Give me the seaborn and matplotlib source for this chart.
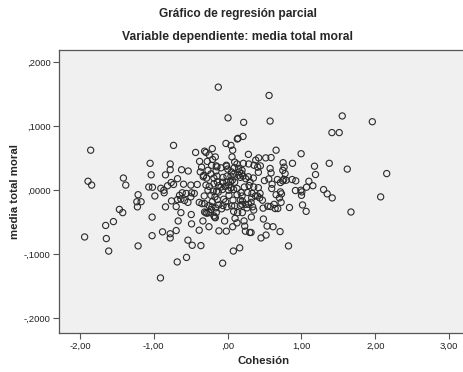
import numpy as np
import pandas as pd
import matplotlib
matplotlib.use('Agg')
import matplotlib.pyplot as plt
import seaborn as sns
from matplotlib.ticker import FuncFormatter

# residuos (Cohesion vs media total moral)
cohesion = [
    -0.127, 0.561, 1.552, 1.959, 0.005, 0.217, 0.575, 1.412, 1.511, 0.131,
    0.140, 0.208, -1.855, -0.733, -0.023, 0.045, 0.068, -0.434, -0.312, -0.294,
    -0.208, -0.249, -0.167, 0.059, 0.281, 0.516, 0.588, 0.656, 0.995, 0.380,
    0.420, -1.050, -0.778, -0.380, -0.276, -0.204, -0.154, -0.018, 0.095, 0.213,
    0.751, 0.878, 1.176, 1.376, 1.620, 2.154, 1.190, -0.778, -0.624, -0.534,
    -0.842, -1.036, -1.412, -0.679, -0.765, -0.814, -0.905, -1.068, -1.018, -1.891,
    -1.842, -1.380, -0.986, -1.213, -1.230, -1.172, -1.222, -1.466, -1.421, -1.547,
    -1.652, -1.937, -1.643, -1.611, -1.213, -1.023, -1.023, -0.882, -0.778, -0.778,
    -0.697, -0.670, -0.633, -0.697, -0.842, -0.760, -0.860, -0.864, -0.733, -0.597,
    -0.652, -0.633, -0.561, -0.584, -0.538, -0.498, -0.489, -0.412, -0.452, -0.493,
    -0.489, -0.538, -0.480, -0.362, -0.557, -0.683, -0.910, -0.385, -0.335, -0.253,
    -0.385, -0.348, -0.294, -0.253, -0.186, -0.167, -0.118, -0.041, -0.018, -0.068,
    0.077, 0.163, 0.068, 0.100, 0.127, 0.199, 0.222, 0.231, 0.240, 0.299,
    0.317, 0.321, 0.136, 0.452, 0.520, 0.484, 0.534, 0.615, 0.710, 0.824,
    1.670, 2.072, 1.063, 1.014, 0.837, 0.679, 0.643, 0.724, 0.701, 0.656,
    0.480, 0.543, 0.579, 0.629, 0.434, 0.471, 0.403, 0.439, 0.326, 0.317,
    0.285, 0.339, 0.195, 0.172, 0.195, 0.095, 0.054, -0.009, -0.063, -0.081,
    -0.122, -0.163, -0.213, -0.253, -0.312, -0.054, -0.140, -0.172, -0.226, -0.195,
    -0.149, -0.127, -0.267, -0.317, -0.294, -0.249, -0.186, -0.140, -0.122, -0.072,
    -0.032, 0.014, 0.045, 0.081, 0.127, 0.127, 0.181, 0.226, 0.095, 0.014,
    0.063, 0.045, 0.081, 0.149, 0.172, 0.208, 0.158, 0.190, 0.149, 0.195,
    0.244, 0.303, 0.348, 0.290, 0.271, 0.416, 0.416, 0.407, 0.575, 0.588,
    0.557, 0.602, 0.597, 0.674, 0.715, 0.747, 0.760, 0.792, 0.747, 0.765,
    0.778, 0.873, 0.923, 0.918, 0.991, 1.005, 1.000, 1.068, 1.100, 1.154,
    1.299, 1.348, 1.416, 0.715, 0.729, 0.330, 0.376, 0.199, 0.244, 0.262,
    0.072, 0.018, -0.027, -0.176, -0.154, 0.081, 0.172, -0.145, -0.158, -0.090,
    -0.014, 0.000, -0.063, -0.009, 0.054, 0.090, 0.127, -0.217, -0.267, -0.226,
    -0.326, -0.353, -0.371, -0.330, -0.285, -0.145, -0.186, -0.068, -0.009, 0.041,
    0.285, 0.357, 0.443, 0.281, 0.498, 0.353, -0.090, -0.208, -0.281, -0.226,
    0.353, -0.312, -0.615, -0.679, -0.498,
]
moral = [
    0.161, 0.148, 0.116, 0.107, 0.113, 0.106, 0.108, 0.090, 0.090, 0.080,
    0.081, 0.084, 0.0625, 0.070, 0.073, 0.070, 0.0625, 0.059, 0.061, 0.059,
    0.065, 0.055, 0.052, 0.052, 0.056, 0.0505, 0.051, 0.0625, 0.057, 0.047,
    0.0505, 0.042, 0.041, 0.045, 0.045, 0.048, 0.038, 0.039, 0.044, 0.042,
    0.043, 0.042, 0.0375, 0.042, 0.033, 0.026, 0.0245, 0.032, 0.032, 0.030,
    0.024, 0.024, 0.019, 0.018, 0.012, 0.007, 0.003, 0.005, 0.0047, 0.014,
    0.008, 0.008, -0.009, -0.007, -0.018, -0.018, -0.026, -0.030, -0.035, -0.049,
    -0.055, -0.073, -0.0755, -0.095, -0.087, -0.042, -0.071, -0.065, -0.068, -0.0745,
    -0.063, -0.048, -0.035, -0.0255, -0.026, -0.0167, -0.004, 0.000, 0.009, 0.0094,
    -0.008, -0.014, -0.005, -0.016, -0.019, 0.008, -0.004, 0.009, -0.005, -0.038,
    -0.0526, -0.078, -0.086, -0.0865, -0.105, -0.112, -0.137, -0.0625, -0.048, -0.057,
    -0.019, -0.021, -0.035, -0.035, -0.040, -0.043, -0.0635, -0.048, -0.064, -0.114,
    -0.095, -0.090, -0.057, -0.044, -0.051, -0.035, -0.048, -0.056, -0.064, -0.066,
    -0.066, -0.042, -0.035, -0.0745, -0.070, -0.045, -0.056, -0.057, -0.0646, -0.087,
    -0.034, -0.0104, -0.033, -0.023, -0.027, -0.0286, -0.0286, -0.019, -0.012, -0.007,
    -0.028, -0.025, -0.0255, -0.022, -0.012, -0.0156, -0.009, -0.005, -0.012, -0.019,
    -0.022, -0.026, -0.022, -0.0156, -0.009, -0.0245, -0.0245, -0.026, -0.024, -0.029,
    -0.023, -0.0276, -0.026, -0.024, -0.021, -0.014, -0.0146, -0.0104, -0.008, -0.0016,
    -0.0016, -0.003, 0.000, -0.009, 0.008, 0.006, 0.010, 0.013, 0.007, 0.001,
    0.006, 0.000, 0.0036, 0.001, -0.007, 0.0026, -0.0036, 0.005, 0.0125, 0.008,
    0.0156, 0.022, 0.025, 0.0234, 0.020, 0.022, 0.0286, 0.026, 0.034, 0.031,
    0.018, 0.013, 0.019, 0.0073, -0.0036, 0.004, 0.028, 0.036, 0.034, 0.027,
    0.0177, 0.0094, 0.0026, 0.0167, 0.012, 0.0146, 0.017, 0.0156, 0.031, 0.036,
    0.026, 0.0167, 0.0146, -0.0005, 0.000, -0.0026, -0.008, 0.0047, 0.014, 0.007,
    0.001, -0.0057, -0.012, -0.0026, -0.0057, -0.005, -0.009, -0.017, -0.022, -0.0276,
    -0.0156, -0.008, -0.018, -0.042, -0.035, -0.033, -0.024, 0.0365, 0.030, 0.035,
    0.0375, 0.033, 0.020, 0.022, 0.0286, 0.035, 0.041, 0.039, 0.031, 0.0255,
    0.023, 0.036, 0.0286, 0.021, 0.019, 0.022, 0.019, 0.0125, 0.0125, 0.0135,
    0.041, 0.039, 0.038, 0.021, 0.015, 0.005, 0.005, -0.018, -0.036, -0.030,
    -0.031, -0.034, -0.004, -0.0146, -0.0104,
]

df = pd.DataFrame({'Cohesión': cohesion, 'media total moral': moral})

sns.set_style('white')
plt.rcParams['font.family'] = ['Liberation Sans', 'DejaVu Sans']

fig = plt.figure(figsize=(4.63, 3.72), dpi=100)
ax = fig.add_axes([59 / 463, 1 - 333 / 372, 1 - 59 / 463 + 0.01, 283 / 372])
ax.set_facecolor('#f0f0f0')

sns.scatterplot(data=df, x='Cohesión', y='media total moral', ax=ax,
                marker='o', s=20, facecolors='none', edgecolor='#2a2a2a',
                linewidth=0.8)

ax.set_xlim(-2.284, 3.25)
ax.set_ylim(-0.223, 0.219)
ax.set_xticks([-2, -1, 0, 1, 2, 3])
ax.set_yticks([-0.2, -0.1, 0.0, 0.1, 0.2])


def fmt_es(v, dec):
    # formato SPSS: coma decimal, sin cero inicial
    s = f'{abs(v):.{dec}f}'.replace('.', ',')
    if s.startswith('0,'):
        s = s[1:]
    if v < 0 and abs(v) > 1e-9:
        s = '-' + s
    return s


ax.xaxis.set_major_formatter(FuncFormatter(lambda v, p: fmt_es(v, 2)))
ax.yaxis.set_major_formatter(FuncFormatter(lambda v, p: fmt_es(v, 4)))

for side in ['left', 'bottom', 'top', 'right']:
    ax.spines[side].set_color('#555555')
    ax.spines[side].set_linewidth(0.9)

ax.tick_params(axis='both', direction='out', length=4, width=0.8,
               color='#555555', labelsize=6.8, labelcolor='#222222', pad=2)
ax.tick_params(left=True, bottom=True)

ax.set_xlabel('Cohesión', fontsize=8.2, fontweight='bold', labelpad=4)
ax.set_ylabel('media total moral', fontsize=8.2, fontweight='bold',
              labelpad=3)

fig.text(238 / 463, 1 - 14 / 372, 'Gráfico de regresión parcial',
         ha='center', va='center', fontsize=8.6, fontweight='bold')
fig.text(238 / 463, 1 - 37 / 372, 'Variable dependiente: media total moral',
         ha='center', va='center', fontsize=8.7, fontweight='bold')

fig.savefig('out.png', dpi=100, facecolor='white')
